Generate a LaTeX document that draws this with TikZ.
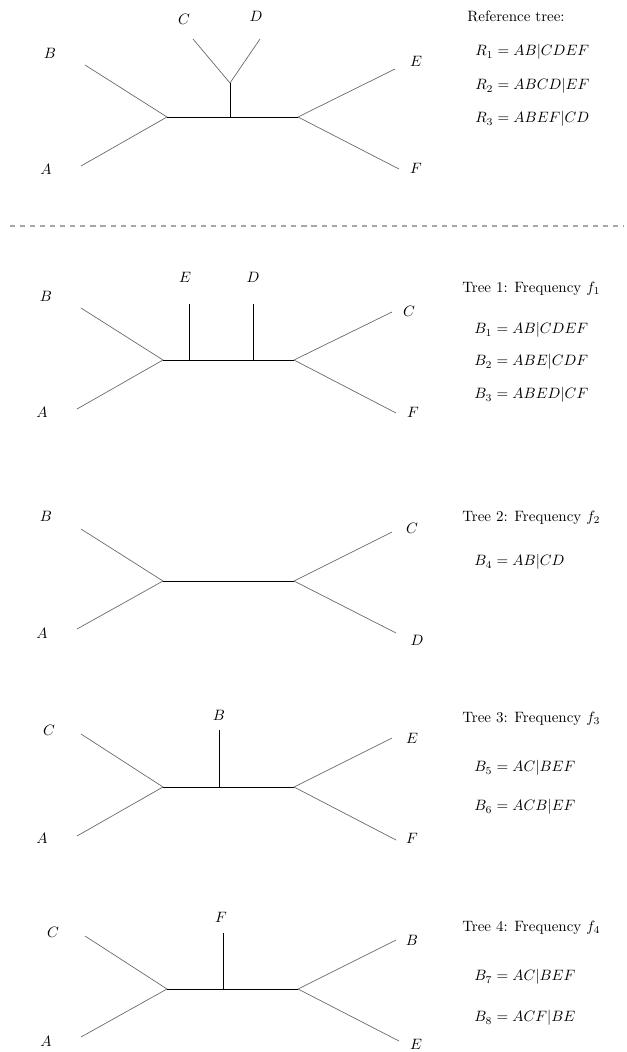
\documentclass[tikz,border=0pt]{standalone}
\usetikzlibrary{calc}
\begin{document}
\begin{tikzpicture}[x=0.66667pt,y=-0.66667pt,
  leafedge/.style={draw=black!60,line width=0.45pt},
  inedge/.style={draw=black,line width=0.6pt},
  lbl/.style={inner sep=0pt,font=\normalsize},
  txt/.style={anchor=west,inner sep=0pt},
  sep/.style={draw=black!35,dashed,line width=0.7pt,dash pattern=on 3.4pt off 3.3pt}]
\useasboundingbox (0,0) rectangle (627,1052);

% ---------- Reference tree ----------
\coordinate (r0B) at (85,65);
\coordinate (r0A) at (81,166);
\coordinate (r0L) at (167,117);
\coordinate (r0M) at (230,117);
\coordinate (r0U) at (230,83);
\coordinate (r0C) at (193,39);
\coordinate (r0D) at (260,39);
\coordinate (r0R) at (298,117);
\coordinate (r0E) at (395,69);
\coordinate (r0F) at (399,169);
\draw[leafedge] (r0B) -- (r0L) -- (r0A);
\draw[leafedge] (r0C) -- (r0U) -- (r0D);
\draw[leafedge] (r0E) -- (r0R) -- (r0F);
\draw[inedge] (r0L) -- (r0R);
\draw[inedge] (r0M) -- (r0U);
\node[lbl] (l0B) at (50,53) {$B$};
\node[lbl] (l0A) at (46,169) {$A$};
\node[lbl] (l0C) at (184,19) {$C$};
\node[lbl] (l0D) at (256,16) {$D$};
\node[lbl] (l0E) at (416,61) {$E$};
\node[lbl] (l0F) at (416,168) {$F$};
\node[txt] (t0) at (467,16) {Reference tree:};
\node[txt] (t0a) at (475,52) {$R_1 = AB|CDEF$};
\node[txt] (t0b) at (475,86) {$R_2 = ABCD|EF$};
\node[txt] (t0c) at (475,119) {$R_3 = ABEF|CD$};

% ---------- separator ----------
\coordinate (sepL) at (10,226);
\coordinate (sepR) at (624,226);
\draw[sep] (sepL) -- (sepR);

% ---------- Tree 1 ----------
\coordinate (t1B) at (81,308);
\coordinate (t1A) at (77,409);
\coordinate (t1L) at (163,360);
\coordinate (t1R) at (294,360);
\coordinate (t1Em) at (189,360);
\coordinate (t1Eu) at (189,304);
\coordinate (t1Dm) at (253,360);
\coordinate (t1Du) at (253,304);
\coordinate (t1C) at (392,312);
\coordinate (t1F) at (396,413);
\draw[leafedge] (t1B) -- (t1L) -- (t1A);
\draw[leafedge] (t1C) -- (t1R) -- (t1F);
\draw[inedge] (t1L) -- (t1R);
\draw[inedge] (t1Em) -- (t1Eu);
\draw[inedge] (t1Dm) -- (t1Du);
\node[lbl] (l1B) at (46,296) {$B$};
\node[lbl] (l1A) at (42,412) {$A$};
\node[lbl] (l1E) at (185,277) {$E$};
\node[lbl] (l1D) at (253,277) {$D$};
\node[lbl] (l1C) at (409,311) {$C$};
\node[lbl] (l1F) at (413,412) {$F$};
\node[txt] (t1) at (462,289) {Tree 1: Frequency $f_1$};
\node[txt] (t1a) at (474,330) {$B_1 = AB|CDEF$};
\node[txt] (t1b) at (474,362) {$B_2 = ABE|CDF$};
\node[txt] (t1c) at (474,395) {$B_3 = ABED|CF$};

% ---------- Tree 2 ----------
\coordinate (t2B) at (81,529);
\coordinate (t2A) at (77,629);
\coordinate (t2L) at (163,581);
\coordinate (t2R) at (294,581);
\coordinate (t2C) at (392,532);
\coordinate (t2D) at (396,633);
\draw[leafedge] (t2B) -- (t2L) -- (t2A);
\draw[leafedge] (t2C) -- (t2R) -- (t2D);
\draw[inedge] (t2L) -- (t2R);
\node[lbl] (l2B) at (46,516) {$B$};
\node[lbl] (l2A) at (42,633) {$A$};
\node[lbl] (l2C) at (412,528) {$C$};
\node[lbl] (l2D) at (417,640) {$D$};
\node[txt] (t2) at (462,518) {Tree 2: Frequency $f_2$};
\node[txt] (t2a) at (474,562) {$B_4 = AB|CD$};

% ---------- Tree 3 ----------
\coordinate (t3C) at (81,734);
\coordinate (t3A) at (77,836);
\coordinate (t3L) at (163,787);
\coordinate (t3R) at (294,787);
\coordinate (t3Bm) at (219,787);
\coordinate (t3Bu) at (219,730);
\coordinate (t3E) at (392,738);
\coordinate (t3F) at (396,840);
\draw[leafedge] (t3C) -- (t3L) -- (t3A);
\draw[leafedge] (t3E) -- (t3R) -- (t3F);
\draw[inedge] (t3L) -- (t3R);
\draw[inedge] (t3Bm) -- (t3Bu);
\node[lbl] (l3C) at (49,730) {$C$};
\node[lbl] (l3A) at (42,838) {$A$};
\node[lbl] (l3B) at (219,715) {$B$};
\node[lbl] (l3E) at (412,738) {$E$};
\node[lbl] (l3F) at (412,838) {$F$};
\node[txt] (t3) at (462,719) {Tree 3: Frequency $f_3$};
\node[txt] (t3a) at (474,768) {$B_5 = AC|BEF$};
\node[txt] (t3b) at (474,807) {$B_6 = ACB|EF$};

% ---------- Tree 4 ----------
\coordinate (t4C) at (85,936);
\coordinate (t4A) at (81,1037);
\coordinate (t4L) at (167,989);
\coordinate (t4R) at (298,989);
\coordinate (t4Fm) at (223,989);
\coordinate (t4Fu) at (223,933);
\coordinate (t4B) at (396,940);
\coordinate (t4E) at (399,1041);
\draw[leafedge] (t4C) -- (t4L) -- (t4A);
\draw[leafedge] (t4B) -- (t4R) -- (t4E);
\draw[inedge] (t4L) -- (t4R);
\draw[inedge] (t4Fm) -- (t4Fu);
\node[lbl] (l4C) at (53,932) {$C$};
\node[lbl] (l4A) at (46,1041) {$A$};
\node[lbl] (l4F) at (221,917) {$F$};
\node[lbl] (l4B) at (412,940) {$B$};
\node[lbl] (l4E) at (416,1044) {$E$};
\node[txt] (t4) at (462,928) {Tree 4: Frequency $f_4$};
\node[txt] (t4a) at (474,977) {$B_7 = AC|BEF$};
\node[txt] (t4b) at (474,1018) {$B_8 = ACF|BE$};
\end{tikzpicture}
\end{document}
